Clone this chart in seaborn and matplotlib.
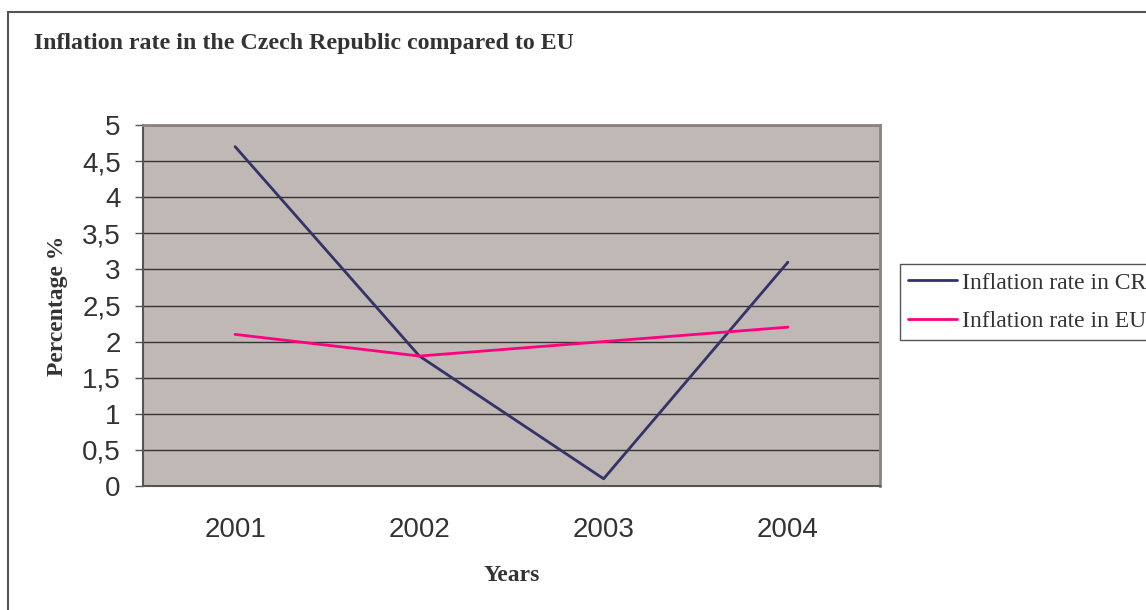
import matplotlib
matplotlib.use("Agg")
import matplotlib.pyplot as plt
from matplotlib.patches import Rectangle
from matplotlib.ticker import FuncFormatter, FixedLocator
import seaborn as sns
import pandas as pd

# Inflation data (%)
years = ["2001", "2002", "2003", "2004"]
inflation_cr = [4.7, 1.8, 0.1, 3.1]
inflation_eu = [2.1, 1.8, 2.0, 2.2]
series_names = ["Inflation rate in CR", "Inflation rate in EU"]
series_colors = ["#333366", "#FF0080"]
y_ticks = [0, 0.5, 1, 1.5, 2, 2.5, 3, 3.5, 4, 4.5, 5]

df = pd.DataFrame({
    "Year": years * 2,
    "Rate": inflation_cr + inflation_eu,
    "Series": [series_names[0]] * len(years) + [series_names[1]] * len(years),
})

sns.set_style("white")
plt.rcParams["font.family"] = ["Liberation Sans", "DejaVu Sans"]

fig = plt.figure(figsize=(11.46, 6.10), dpi=100)
ax = fig.add_axes([143 / 1146, 1 - 486 / 610, (880 - 143) / 1146, (486 - 125) / 610])
ax.set_facecolor("#C0B8B5")

# outer chart frame
fig.patches.append(Rectangle((8 / 1146, -0.1), 1.2, 1 - 12 / 610 + 0.1,
                             transform=fig.transFigure, fill=False,
                             edgecolor="#555555", linewidth=1.5, zorder=0))

sns.lineplot(data=df, x="Year", y="Rate", hue="Series", hue_order=series_names,
             palette=series_colors, linewidth=2.0, ax=ax, legend=True, sort=False)

ax.set_xlim(-0.5, len(years) - 0.5)
ax.set_ylim(0, 5)

ax.yaxis.set_major_locator(FixedLocator(y_ticks))
ax.yaxis.set_major_formatter(FuncFormatter(lambda v, p: f"{v:g}".replace(".", ",")))
ax.grid(axis="y", color="#333333", linewidth=1.0)
ax.set_axisbelow(True)

ax.set_xticks(range(len(years)))
ax.set_xticklabels(years)
ax.set_xticks([i - 0.5 for i in range(len(years) + 1)], minor=True)
ax.tick_params(axis="x", which="major", length=0, pad=22, labelsize=20, labelcolor="#333333")
ax.tick_params(axis="x", which="minor", length=6, width=1, color="#555555", direction="out")
ax.tick_params(axis="y", which="major", length=6, width=1, color="#555555", direction="out",
               pad=10, labelsize=20, labelcolor="#333333", left=True)

for side in ["top", "right"]:
    ax.spines[side].set_color("#8C8280")
    ax.spines[side].set_linewidth(2.0)
for side in ["left", "bottom"]:
    ax.spines[side].set_color("#555555")
    ax.spines[side].set_linewidth(1.5)
    ax.spines[side].set_visible(True)

ax.set_xlabel("Years", fontfamily="Liberation Serif", fontweight="bold",
              fontsize=17, color="#333333", labelpad=16)
ax.set_ylabel("Percentage %", fontfamily="Liberation Serif", fontweight="bold",
              fontsize=17, color="#333333", labelpad=10)

fig.text(34 / 1146, 1 - 43 / 610, "Inflation rate in the Czech Republic compared to EU",
         fontfamily="Liberation Serif", fontweight="bold", fontsize=17.2,
         color="#333333", ha="left", va="center")

handles, labels = ax.get_legend_handles_labels()
leg = ax.legend(handles, labels, loc="center left",
                bbox_to_anchor=(900 / 1146, 1 - 302 / 610), bbox_transform=fig.transFigure,
                frameon=True, fancybox=False, framealpha=1, edgecolor="#555555",
                prop={"family": "Liberation Serif", "size": 17},
                handlelength=2.1, handletextpad=0.2, borderpad=0.33, labelspacing=0.7,
                borderaxespad=0)
leg.get_frame().set_linewidth(1.0)
for t in leg.get_texts():
    t.set_color("#333333")

fig.savefig("out.png", dpi=100)
